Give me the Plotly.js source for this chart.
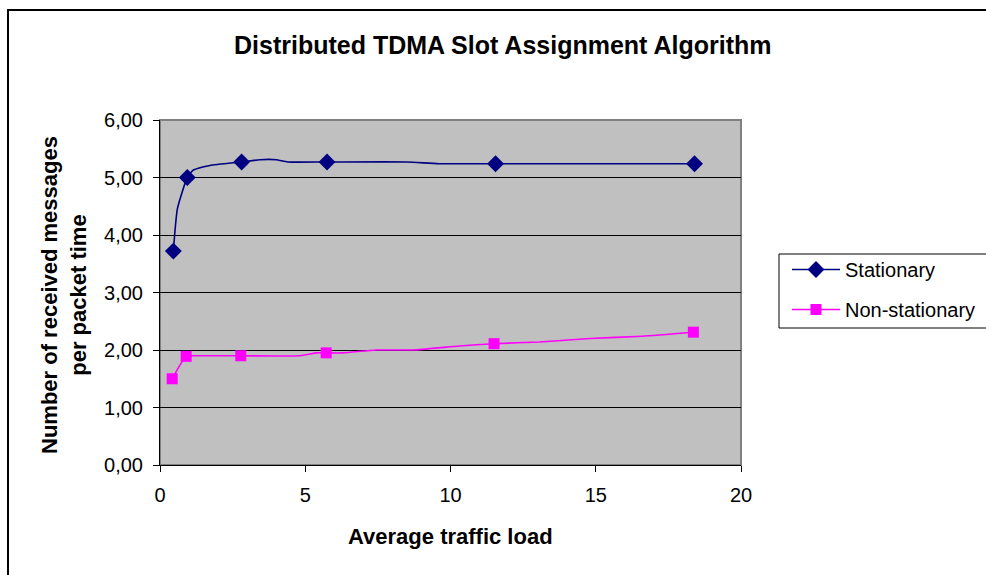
<!DOCTYPE html>
<html>
<head>
<meta charset="utf-8">
<script src="https://cdn.plot.ly/plotly-3.0.1.min.js"></script>
<style>html,body{margin:0;padding:0;background:#fff;}#chart{width:986px;height:575px;}</style>
</head>
<body>
<div id="chart"></div>
<script>
// Marked data points
const statX = [0.46, 0.94, 2.81, 5.75, 11.55, 18.4];
const statY = [3.72, 5.00, 5.27, 5.27, 5.24, 5.24];
const nonX = [0.42, 0.9, 2.78, 5.72, 11.5, 18.36];
const nonY = [1.50, 1.89, 1.90, 1.95, 2.11, 2.31];
// Smoothed curves as drawn (including marked points)
const statCurveX = [0.46, 0.6, 0.94, 1.15, 1.72, 2.81, 3.44, 4.0, 4.4, 5.75, 8.5, 9.6, 11.55, 18.4];
const statCurveY = [3.72, 4.46, 5.00, 5.13, 5.21, 5.27, 5.31, 5.31, 5.27, 5.27, 5.27, 5.24, 5.24, 5.24];
const nonCurveX = [0.42, 0.9, 1.2, 2.78, 4.81, 5.39, 5.72, 6.3, 7.45, 8.7, 10.3, 11.5, 13.07, 14.8, 16.6, 18.36];
const nonCurveY = [1.50, 1.89, 1.90, 1.90, 1.90, 1.95, 1.95, 1.95, 2.00, 2.00, 2.07, 2.11, 2.14, 2.20, 2.24, 2.31];
const seriesNames = ['Stationary', 'Non-stationary'];
const yTicks = [0, 1, 2, 3, 4, 5, 6];
const xTicks = [0, 5, 10, 15, 20];

const FONT = 'Liberation Sans, Arial, sans-serif';
const L = 160, R = 741, T = 120, B = 465;
const W = R - L, H = B - T;
const px = x => (x - L) / W;
const py = y => (B - y) / H;

function markedIndices(curveX, markX) {
  const idx = [];
  curveX.forEach((x, i) => { if (markX.indexOf(x) >= 0) idx.push(i); });
  return idx;
}

const traces = [
  {x: statCurveX, y: statCurveY, name: seriesNames[0], type: 'scatter', mode: 'lines+markers',
   line: {color: '#000080', width: 1.6, shape: 'spline', smoothing: 0.5},
   marker: {symbol: 'diamond', size: 13, color: '#000080', opacity: 1, line: {width: 0}},
   selectedpoints: markedIndices(statCurveX, statX),
   selected: {marker: {opacity: 1}}, unselected: {marker: {opacity: 0}},
   legendgroup: 'a'},
  {x: nonCurveX, y: nonCurveY, name: seriesNames[1], type: 'scatter', mode: 'lines+markers',
   line: {color: '#FF00FF', width: 1.6, shape: 'spline', smoothing: 0.5},
   marker: {symbol: 'square', size: 11, color: '#FF00FF', opacity: 1, line: {width: 0}},
   selectedpoints: markedIndices(nonCurveX, nonX),
   selected: {marker: {opacity: 1}}, unselected: {marker: {opacity: 0}},
   legendgroup: 'b'}
];

const layout = {
  width: 986, height: 575,
  margin: {l: L, r: 986 - R, t: T, b: 575 - B, pad: 0, autoexpand: false},
  paper_bgcolor: '#ffffff', plot_bgcolor: '#C0C0C0',
  separators: ',.',
  font: {family: FONT, size: 20, color: '#000'},
  showlegend: true,
  legend: {x: px(787), y: py(250), xanchor: 'left', yanchor: 'top',
    borderwidth: 0, bgcolor: 'rgba(0,0,0,0)',
    font: {family: FONT, size: 20, color: '#000'},
    itemsizing: 'trace',
    traceorder: 'grouped', tracegroupgap: 11, itemwidth: 48},
  xaxis: {range: [0, 20], tickvals: xTicks, ticktext: xTicks.map(String),
    showgrid: false, zeroline: false, showline: true, linecolor: '#000', linewidth: 1,
    ticks: 'outside', ticklen: 6, tickcolor: '#000', tickfont: {size: 20},
    ticklabelstandoff: 6, fixedrange: true, automargin: false},
  yaxis: {range: [0, 6], tickvals: yTicks, tickformat: '.2f',
    showgrid: true, gridcolor: '#000', gridwidth: 1, zeroline: false,
    showline: true, linecolor: '#000', linewidth: 1,
    ticks: 'outside', ticklen: 6, tickcolor: '#000', tickfont: {size: 20},
    ticklabelstandoff: 6, fixedrange: true, automargin: false},
  shapes: [
    {type: 'rect', xref: 'paper', yref: 'paper', x0: 0, x1: 1, y0: 0, y1: 1,
     line: {color: '#808080', width: 2}, layer: 'below'},
    {type: 'rect', xref: 'paper', yref: 'paper', x0: px(8), x1: px(1000), y0: py(10), y1: py(600),
     line: {color: '#000', width: 2}},
    {type: 'rect', xref: 'paper', yref: 'paper', x0: px(779), x1: px(1000), y0: py(254), y1: py(328),
     line: {color: '#000', width: 1}, fillcolor: '#ffffff', layer: 'below'}
  ],
  annotations: [
    {text: '<b>Distributed TDMA Slot Assignment Algorithm</b>', xref: 'paper', yref: 'paper',
     x: px(503), y: py(45), xanchor: 'center', yanchor: 'middle', showarrow: false,
     font: {family: FONT, size: 25}},
    {text: '<b>Number of received messages<br>per packet time</b>', xref: 'paper', yref: 'paper',
     x: px(64), y: py(295), xanchor: 'center', yanchor: 'middle', showarrow: false,
     textangle: -90, font: {family: FONT, size: 22}},
    {text: '<b>Average traffic load</b>', xref: 'paper', yref: 'paper',
     x: px(450), y: py(536), xanchor: 'center', yanchor: 'middle', showarrow: false,
     font: {family: FONT, size: 22}}
  ]
};

Plotly.newPlot('chart', traces, layout, {displayModeBar: false, staticPlot: true});
</script>
</body>
</html>
